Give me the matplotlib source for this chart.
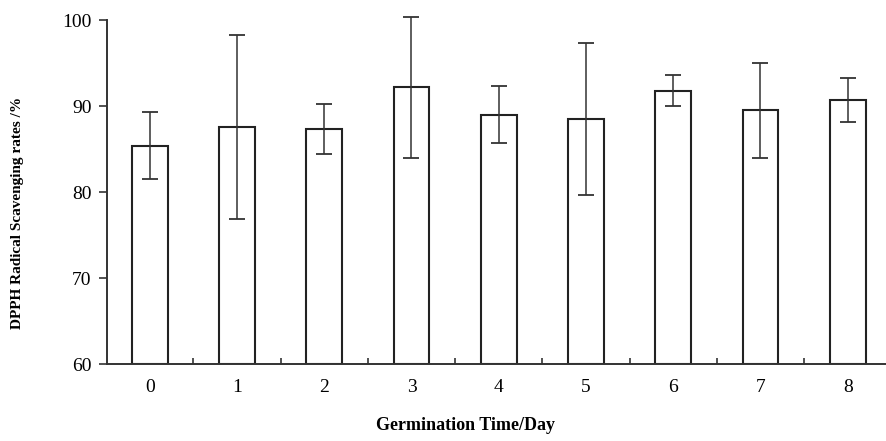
import matplotlib
matplotlib.use("Agg")
import matplotlib.pyplot as plt
import numpy as np

# germination day, mean scavenging rate and error
days = ['0', '1', '2', '3', '4', '5', '6', '7', '8']
rates = [85.4, 87.6, 87.3, 92.2, 89.0, 88.5, 91.8, 89.5, 90.7]
errors = [3.9, 10.7, 2.9, 8.2, 3.3, 8.8, 1.8, 5.5, 2.6]

plt.rcParams['font.family'] = ['Liberation Serif', 'DejaVu Serif']

fig = plt.figure(figsize=(8.87, 4.41), dpi=100)
ax = fig.add_axes([0.1206, 0.1746, 0.8794, 0.78])

x = np.arange(len(days))
ax.bar(x, [r - 60 for r in rates], bottom=60, width=0.41, color='white',
       edgecolor='#222222', linewidth=1.5, zorder=2)
eb = ax.errorbar(x, rates, yerr=errors, fmt='none', ecolor='#333333',
                 elinewidth=1.1, capsize=6, capthick=1.3, zorder=3)
for artist in eb.lines[1] + eb.lines[2]:
    artist.set_clip_on(False)

# axis ranges
ax.set_ylim(60, 100)
ax.set_xlim(-0.49, 8.45)
ax.set_yticks([60, 70, 80, 90, 100])
ax.set_yticklabels(['60', '70', '80', '90', '100'], fontsize=14)
ax.set_xticks(x)
ax.set_xticklabels(days, fontsize=14)
ax.set_xticks(np.arange(0.5, 8.5, 1), minor=True)

ax.tick_params(axis='x', which='major', length=0, pad=11)
ax.tick_params(axis='x', which='minor', direction='in', length=4, width=1.2,
               color='#333333')
ax.tick_params(axis='y', direction='out', length=6, width=1.2,
               color='#333333', pad=5)

for s in ['top', 'right']:
    ax.spines[s].set_visible(False)
for s in ['left', 'bottom']:
    ax.spines[s].set_linewidth(1.4)
    ax.spines[s].set_color('#333333')

ax.set_xlabel('Germination Time/Day', fontsize=13, fontweight='bold')
ax.xaxis.set_label_coords(0.459, -0.155)
ax.set_ylabel('DPPH Radical Scavenging rates /%', fontsize=11, fontweight='bold')
ax.yaxis.set_label_coords(-0.107, 0.44)

fig.savefig('out.png', dpi=100)
